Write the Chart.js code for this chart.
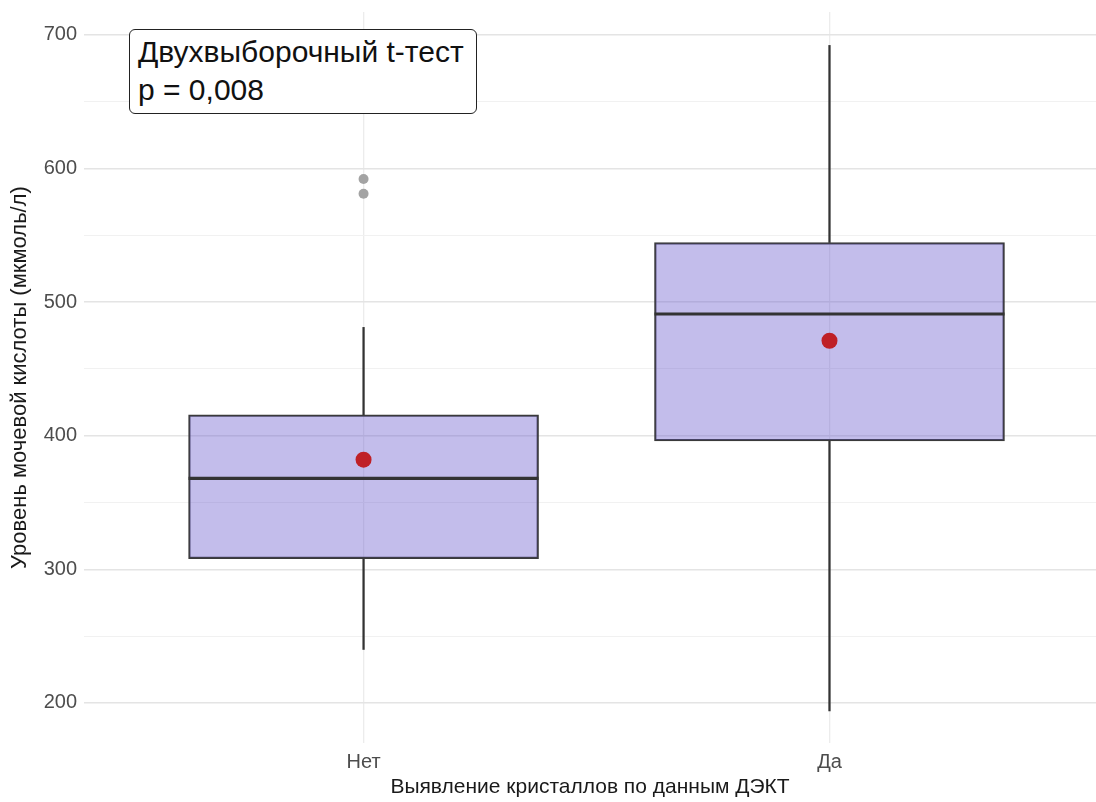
<!DOCTYPE html>
<html lang="ru">
<head>
<meta charset="utf-8">
<title>Уровень мочевой кислоты</title>
<script src="https://cdn.jsdelivr.net/npm/chart.js@4/dist/chart.umd.min.js"></script>
<style>
  html, body { margin: 0; padding: 0; background: #fff; overflow: hidden; }
  #wrap { position: relative; width: 1096px; height: 802px; }
  #boxChart { display: block; }
  #note {
    position: absolute; left: 129px; top: 29px; width: 338px; height: 80px;
    border: 1.5px solid #222; border-radius: 6px; background: #fff;
    font-family: 'Liberation Sans', Arial, sans-serif; font-size: 30px;
    line-height: 38px; color: #111; padding: 3px 0 0 8px; box-sizing: content-box;
    white-space: nowrap;
  }
</style>
</head>
<body>
<div id="wrap">
  <canvas id="boxChart" width="1096" height="802"></canvas>
  <div id="note">Двухвыборочный t-тест<br>p = 0,008</div>
</div>
<script>
// Группы (по оси X)
const categories = ['Нет', 'Да'];
// Статистики ящиков с усами (мкмоль/л)
const whiskerLow = [240, 194];
const q1 = [308, 396];
const median = [368, 491];
const q3 = [415.5, 544.5];
const whiskerHigh = [481, 692];
const means = [382, 471];
// Выбросы: [номер группы, значение]
const outliers = [[1, 592], [1, 581]];
// Подписи оси Y
const yTicks = [200, 250, 300, 350, 400, 450, 500, 550, 600, 650, 700];

const FONT = "'Liberation Sans', Arial, sans-serif";
const pos = categories.map((c, i) => i + 1);

// Медиана — толстая линия поперёк ящика
const medianPlugin = {
  id: 'medianLine',
  afterDatasetsDraw(chart) {
    const meta = chart.getDatasetMeta(0);
    const y = chart.scales.y;
    const ctx = chart.ctx;
    ctx.save();
    ctx.strokeStyle = '#333';
    ctx.lineWidth = 3.2;
    meta.data.forEach((bar, i) => {
      const py = y.getPixelForValue(median[i]);
      ctx.beginPath();
      ctx.moveTo(bar.x - bar.width / 2, py);
      ctx.lineTo(bar.x + bar.width / 2, py);
      ctx.stroke();
    });
    ctx.restore();
  }
};

const ctx = document.getElementById('boxChart').getContext('2d');

new Chart(ctx, {
  type: 'bar',
  data: {
    datasets: [
      {
        label: 'box',
        data: pos.map((x, i) => ({ x: x, y: [q1[i], q3[i]] })),
        backgroundColor: 'rgba(106, 90, 205, 0.4)',
        borderColor: '#3a3a3a',
        borderWidth: 1.6,
        borderSkipped: false,
        barThickness: 350,
        grouped: false,
        order: 2
      },
      {
        label: 'upper',
        data: pos.map((x, i) => ({ x: x, y: [q3[i], whiskerHigh[i]] })),
        backgroundColor: '#333',
        borderWidth: 0,
        barThickness: 1.6,
        grouped: false,
        order: 3
      },
      {
        label: 'lower',
        data: pos.map((x, i) => ({ x: x, y: [whiskerLow[i], q1[i]] })),
        backgroundColor: '#333',
        borderWidth: 0,
        barThickness: 1.6,
        grouped: false,
        order: 3
      },
      {
        type: 'line',
        label: 'mean',
        data: pos.map((x, i) => ({ x: x, y: means[i] })),
        showLine: false,
        pointRadius: 8,
        pointBackgroundColor: '#bf2026',
        pointBorderWidth: 0,
        order: 0
      },
      {
        type: 'line',
        label: 'outliers',
        data: outliers.map(o => ({ x: o[0], y: o[1] })),
        showLine: false,
        pointRadius: 5,
        pointBackgroundColor: '#a3a3a3',
        pointBorderWidth: 0,
        order: 1
      }
    ]
  },
  options: {
    responsive: false,
    animation: false,
    layout: { autoPadding: false, padding: { top: 12, right: 0, bottom: 0, left: 0 } },
    plugins: {
      legend: { display: false },
      tooltip: { enabled: false }
    },
    scales: {
      x: {
        type: 'linear',
        min: 0.4,
        max: 2.572,
        offset: false,
        afterBuildTicks: (scale) => { scale.ticks = pos.map(v => ({ value: v })); },
        afterFit: (scale) => {
          scale.height = 59;
          scale.paddingLeft = 0;
          scale.paddingRight = 0;
        },
        ticks: {
          callback: (v) => categories[v - 1] || '',
          color: '#4d4d4d',
          padding: 7,
          font: { family: FONT, size: 20 }
        },
        grid: { color: '#ececec', lineWidth: 1.3, drawTicks: false, offset: false },
        border: { display: false },
        title: {
          display: true,
          text: 'Выявление кристаллов по данным ДЭКТ',
          color: '#1a1a1a',
          padding: { top: 0, bottom: 2 },
          font: { family: FONT, size: 21 }
        }
      },
      y: {
        min: 170,
        max: 717,
        afterBuildTicks: (scale) => { scale.ticks = yTicks.map(v => ({ value: v })); },
        afterFit: (scale) => {
          scale.width = 84;
          scale.paddingTop = 0;
          scale.paddingBottom = 0;
        },
        ticks: {
          callback: (v) => (v % 100 === 0 ? v : ''),
          color: '#4d4d4d',
          padding: 7,
          font: { family: FONT, size: 20 }
        },
        grid: {
          color: (c) => (c.tick && c.tick.value % 100 === 0 ? '#e4e4e4' : '#f1f1f1'),
          lineWidth: (c) => (c.tick && c.tick.value % 100 === 0 ? 1.4 : 1),
          drawTicks: false
        },
        border: { display: false },
        title: {
          display: true,
          text: 'Уровень мочевой кислоты (мкмоль/л)',
          color: '#1a1a1a',
          padding: { top: 7, bottom: 0 },
          font: { family: FONT, size: 22 }
        }
      }
    }
  },
  plugins: [medianPlugin]
});
</script>
</body>
</html>
